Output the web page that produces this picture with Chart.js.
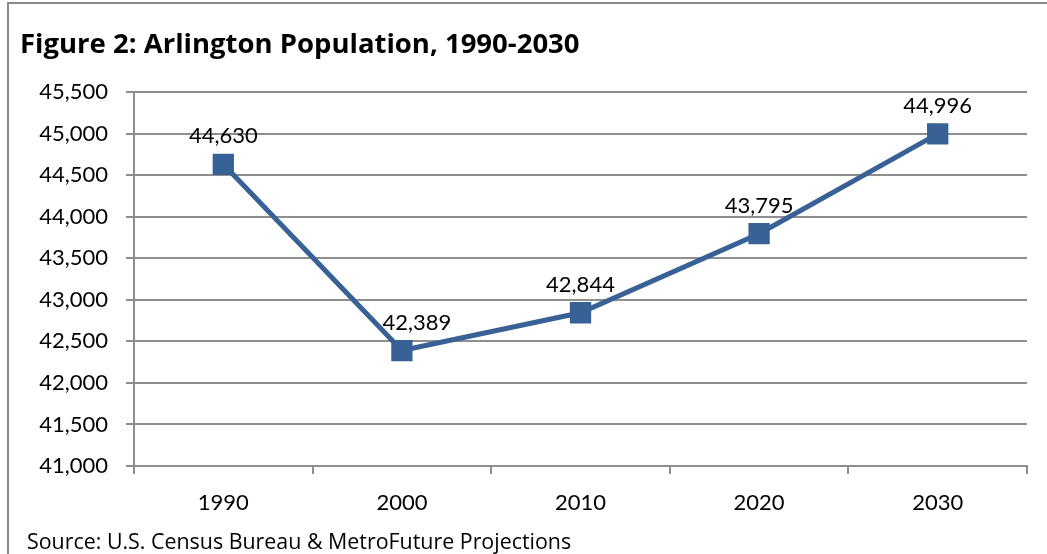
<!DOCTYPE html>
<html>
<head>
<meta charset="utf-8">
<script src="https://cdn.jsdelivr.net/npm/chart.js@4/dist/chart.umd.min.js"></script>
<style>
  html, body { margin: 0; padding: 0; background: #fff; overflow: hidden; }
  body { width: 1047px; height: 554px; position: relative; }
  #frame { position: absolute; left: 7px; top: 2px; width: 1080px; height: 600px; border: 2px solid #8a8a8a; }
  #wrap { position: absolute; left: 9px; top: 4px; width: 1038px; height: 550px; }
</style>
</head>
<body>
<div id="frame"></div>
<div id="wrap"><canvas id="c"></canvas></div>
<script>
const categories = ['1990', '2000', '2010', '2020', '2030'];
const population = [44630, 42389, 42844, 43795, 44996];
const yMin = 41000, yMax = 45500, yStep = 500;
const titleText = 'Figure 2: Arlington Population, 1990-2030';
const sourceText = 'Source: U.S. Census Bureau & MetroFuture Projections';

const FONT = 'Lato, "Open Sans", sans-serif';
const TFONT = '"Open Sans", sans-serif';
const lineColor = 'rgb(56,98,150)';
const gridColor = '#8e8e8e';

const fmt = v => v.toLocaleString('en-US');

const labelPlugin = {
  id: 'pointLabels',
  afterDatasetsDraw(chart, args, opts) {
    const ctx = chart.ctx;
    const meta = chart.getDatasetMeta(0);
    const shift = opts.shiftX || [];
    ctx.save();
    ctx.font = '22px ' + FONT;
    ctx.fillStyle = '#000';
    ctx.textAlign = 'center';
    ctx.textBaseline = 'middle';
    meta.data.forEach((pt, i) => {
      ctx.fillText(fmt(chart.data.datasets[0].data[i]), pt.x + (shift[i] || 0), pt.y - 28);
    });
    ctx.restore();
  }
};

const sourcePlugin = {
  id: 'sourceNote',
  afterDraw(chart) {
    const ctx = chart.ctx;
    ctx.save();
    ctx.font = '21.4px ' + TFONT;
    ctx.fillStyle = '#000';
    ctx.textAlign = 'left';
    ctx.textBaseline = 'middle';
    ctx.fillText(sourceText, 18, chart.height - 11);
    ctx.restore();
  }
};

new Chart(document.getElementById('c'), {
  type: 'line',
  data: {
    labels: categories,
    datasets: [{
      data: population,
      borderColor: lineColor,
      backgroundColor: lineColor,
      borderWidth: 5,
      pointStyle: 'rect',
      pointRadius: 14,
      pointBorderWidth: 1.5,
      pointBorderColor: lineColor,
      pointBackgroundColor: lineColor,
      tension: 0,
      fill: false
    }]
  },
  options: {
    responsive: true,
    maintainAspectRatio: false,
    animation: false,
    layout: { padding: { left: 11, right: 20, top: 0, bottom: 0 } },
    plugins: {
      legend: { display: false },
      tooltip: { enabled: false },
      pointLabels: { shiftX: [0, 15, 0, 0, 0] },
      title: {
        display: true,
        text: titleText,
        align: 'start',
        color: '#000',
        font: { family: TFONT, size: 27.5, weight: 'bold' },
        padding: { top: 25, bottom: 30 }
      }
    },
    scales: {
      x: {
        offset: true,
        afterFit(scale) { scale.height = 88; },
        grid: { display: true, drawOnChartArea: false, offset: true, tickLength: 8, color: gridColor, lineWidth: 2 },
        border: { display: true, color: gridColor, width: 2 },
        ticks: { color: '#000', font: { family: FONT, size: 22 }, padding: 16 }
      },
      y: {
        min: yMin,
        max: yMax,
        afterFit(scale) { scale.width = 114; },
        grid: { color: gridColor, lineWidth: 2, tickLength: 8 },
        border: { display: true, color: gridColor, width: 2 },
        ticks: { stepSize: yStep, color: '#000', font: { family: FONT, size: 22 }, padding: 18, callback: v => fmt(v) }
      }
    }
  },
  plugins: [labelPlugin, sourcePlugin]
});
</script>
</body>
</html>
